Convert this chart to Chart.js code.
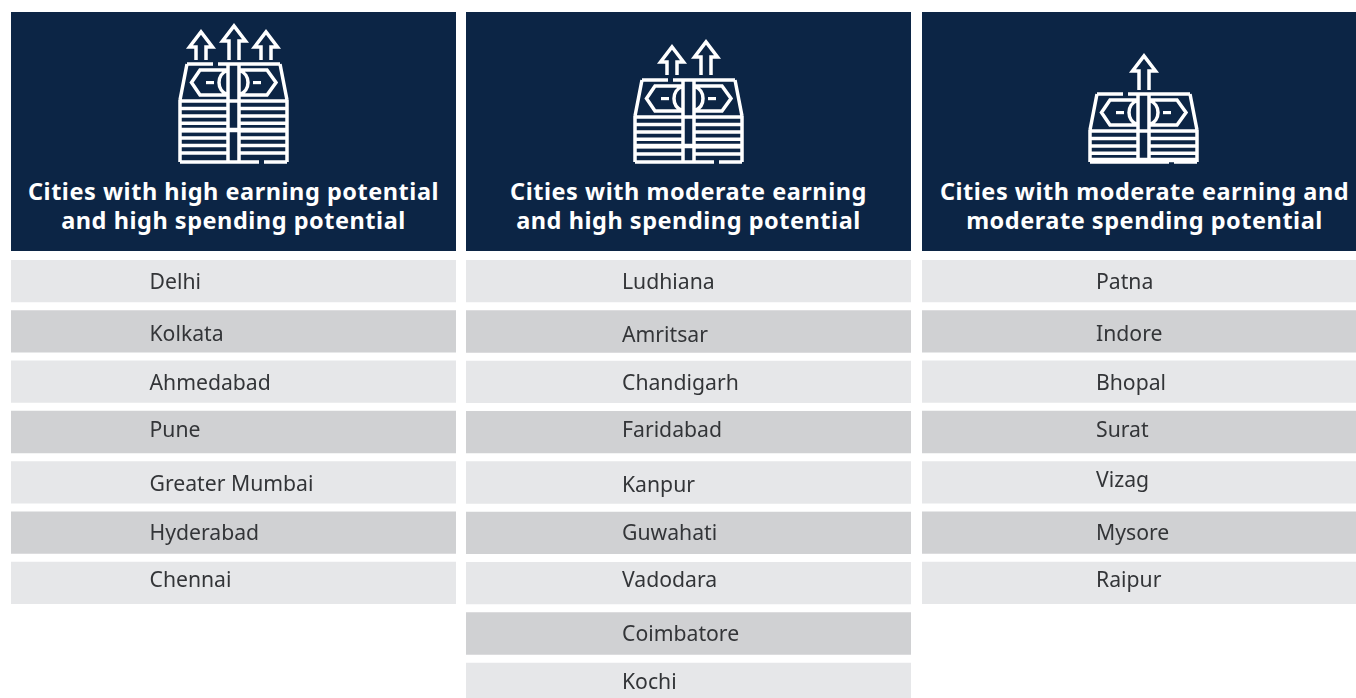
<!DOCTYPE html>
<html>
<head>
<meta charset="utf-8">
<script src="https://cdn.jsdelivr.net/npm/chart.js@4"></script>
<style>
  html, body { margin: 0; padding: 0; background: #fff; width: 1356px; height: 698px; overflow: hidden; }
  .head { position: absolute; top: 12px; height: 239px; background: #0c2545; }
  .head div { position: absolute; left: 0; right: 0; top: 165px; text-align: center; color: #fff;
    font: 700 23.5px/29px "Noto Sans", sans-serif; letter-spacing: 0.53px; white-space: nowrap; }
  canvas { position: absolute; top: 256px; }
  #icons { position: absolute; left: 0; top: 0; }
</style>
</head>
<body>
<script>
const titles = [
  ["Cities with high earning potential", "and high spending potential"],
  ["Cities with moderate earning", "and high spending potential"],
  ["Cities with moderate earning and", "moderate spending potential"],
];
const highHigh = ["Delhi", "Kolkata", "Ahmedabad", "Pune", "Greater Mumbai", "Hyderabad", "Chennai"];
const modHigh = ["Ludhiana", "Amritsar", "Chandigarh", "Faridabad", "Kanpur", "Guwahati", "Vadodara", "Coimbatore", "Kochi"];
const modMod = ["Patna", "Indore", "Bhopal", "Surat", "Vizag", "Mysore", "Raipur"];

// layout per column, the last one runs off the right edge of the page
const columns = [
  { cities: highHigh, left: 11, textX: 138.5, nudge: [2, 4, 2, -1, 3, 1, -2], stackX: 180, stackH: 98,
    arrows: [[201, 32, 60], [234, 26, 60], [266, 32, 60]] },
  { cities: modHigh, left: 466, textX: 156, nudge: [2, 4, 2, -1, 3, 1, -2, 1, -1], stackX: 635, stackH: 82,
    arrows: [[672, 47, 75], [706, 42, 75]] },
  { cities: modMod, left: 922, textX: 174, nudge: [2, 4, 2, -1, -1, 1, -2], stackX: 1090, stackH: 68,
    arrows: [[1144, 56, 90]] },
];
const COL_WIDTH = 445;
const ROW_PITCH = 50.4;
const LIGHT = "#e6e7e9";
const DARK = "#d0d1d3";

const cityLabels = {
  id: "cityLabels",
  afterDatasetsDraw(chart, args, opts) {
    const ctx = chart.ctx;
    const yScale = chart.scales.y;
    ctx.save();
    ctx.font = '21.2px "Noto Sans", sans-serif';
    ctx.fillStyle = "#333538";
    ctx.textBaseline = "middle";
    chart.data.labels.forEach((city, i) => {
      ctx.fillText(city, opts.x, yScale.getPixelForValue(i) + opts.nudge[i]);
    });
    ctx.restore();
  },
};

function drawColumn(col, idx) {
  const head = document.createElement("section");
  head.className = "head";
  head.style.left = col.left + "px";
  head.style.width = COL_WIDTH + "px";
  head.innerHTML = "<div>" + titles[idx].join("<br>") + "</div>";
  document.body.appendChild(head);

  const canvas = document.createElement("canvas");
  canvas.style.left = col.left + "px";
  canvas.width = COL_WIDTH;
  canvas.height = Math.floor(col.cities.length * ROW_PITCH);
  document.body.appendChild(canvas);

  new Chart(canvas, {
    type: "bar",
    data: {
      labels: col.cities,
      datasets: [{
        data: col.cities.map(() => 1),
        backgroundColor: col.cities.map((c, i) => (i % 2 ? DARK : LIGHT)),
        barThickness: 41.6,
      }],
    },
    options: {
      indexAxis: "y",
      responsive: false,
      animation: false,
      events: [],
      layout: { padding: 0 },
      plugins: {
        legend: { display: false },
        tooltip: { enabled: false },
        cityLabels: { x: col.textX, nudge: col.nudge },
      },
      scales: {
        x: { display: false, min: 0, max: 1 },
        y: { display: false },
      },
    },
    plugins: [cityLabels],
  });
}

// money stack + up arrows icon, bottom of every stack sits at y=162
function iconMarkup(col) {
  const x0 = col.stackX, H = col.stackH, y0 = 162 - H;
  const X = v => x0 + v, Y = v => y0 + v;
  let d = "";
  const line = (a, b, c, e) => { d += `M${X(a)} ${Y(b)}L${X(c)} ${Y(e)}`; };
  // outline
  line(33, 0, 7, 0); line(7, 0, 0, 36); line(38, 0, 100, 0); line(100, 0, 107, 36);
  line(0, 36, 0, H); line(107, 36, 107, H);
  line(0, H, 79, H); line(84, H, 107, H);
  line(0, 37, 107, 37);
  // notes
  d += `M${X(47)} ${Y(6)}L${X(20)} ${Y(6)}L${X(11.5)} ${Y(18.5)}L${X(20)} ${Y(31)}L${X(47)} ${Y(31)}`;
  d += `M${X(60)} ${Y(6)}L${X(87)} ${Y(6)}L${X(96)} ${Y(18.5)}L${X(87)} ${Y(31)}L${X(60)} ${Y(31)}`;
  d += `M${X(47)} ${Y(6.5)}A13 13 0 0 0 ${X(47)} ${Y(30.5)}M${X(60)} ${Y(6.5)}A13 13 0 0 1 ${X(60)} ${Y(30.5)}`;
  // strap
  line(48, 1, 48, H); line(59, 1, 59, H);
  // sheets
  for (let y = 44.5; y < H - 3; y += 7.4) {
    line(0, y, 48, y); line(59, y, 107, y);
  }
  // strap crossings
  let cross = "";
  if (H > 66) cross = `M${X(0)} ${Y(66)}L${X(107)} ${Y(66)}`;

  let out = `<path d="${d}" fill="none" stroke="#fff" stroke-width="3.5"/>`;
  if (cross) out += `<path d="${cross}" fill="none" stroke="#fff" stroke-width="4.5"/>`;
  out += `<rect x="${X(26)}" y="${Y(17)}" width="8" height="3.2" fill="#fff"/>`;
  out += `<rect x="${X(73)}" y="${Y(17)}" width="8" height="3.2" fill="#fff"/>`;
  col.arrows.forEach(([cx, tip, bottom]) => {
    const s = tip + 15;
    out += `<path d="M${cx - 5} ${bottom}L${cx - 5} ${s}L${cx - 11.5} ${s}L${cx} ${tip}L${cx + 11.5} ${s}L${cx + 5} ${s}L${cx + 5} ${bottom}" fill="none" stroke="#fff" stroke-width="3.5"/>`;
  });
  return out;
}

columns.forEach(drawColumn);

const svg = document.createElementNS("http://www.w3.org/2000/svg", "svg");
svg.id = "icons";
svg.setAttribute("width", 1356);
svg.setAttribute("height", 170);
svg.innerHTML = columns.map(iconMarkup).join("");
document.body.appendChild(svg);
</script>
</body>
</html>
